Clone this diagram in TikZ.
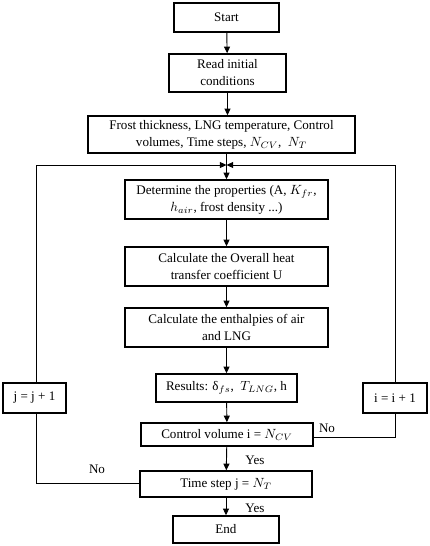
\documentclass[tikz,border=0pt]{standalone}
\usepackage{fontspec}
\setmainfont{Liberation Serif}
\usetikzlibrary{arrows.meta}
\begin{document}
\begin{tikzpicture}[x=0.75pt,y=-0.75pt,
  box/.style={draw,line width=1.1pt,inner sep=0pt,align=center,font=\fontsize{9.8}{12.75}\selectfont},
  lbl/.style={inner sep=0pt,font=\fontsize{9.8}{12}\selectfont},
  conn/.style={line width=0.7pt,-{Triangle[length=5pt,width=4.5pt]}},
  plain/.style={line width=0.7pt}]
\useasboundingbox (0,0) rectangle (429,546);
\node[box,minimum width=78.75pt,minimum height=21.75pt] (start) at (226.5,17.5) {Start};
\node[box,minimum width=87.75pt,minimum height=28.5pt] (read) at (227.5,73) {Read initial\\conditions};
\node[box,minimum width=200.25pt,minimum height=27.75pt] (frost) at (221.5,134.5) {Frost thickness, LNG temperature, Control\\volumes, Time steps, $N_{CV}$,\ \ $N_T$};
\node[box,minimum width=152.25pt,minimum height=29.25pt] (det) at (226.5,199.5) {Determine the properties (A, $K_{fr}$,\\$h_{air}$, frost density ...)};
\node[box,minimum width=152.25pt,minimum height=29.25pt] (calcU) at (226.5,266.5) {Calculate the Overall heat\\transfer coefficient U};
\node[box,minimum width=152.25pt,minimum height=29.25pt] (enth) at (226.5,327.5) {Calculate the enthalpies of air\\and LNG};
\node[box,minimum width=105.75pt,minimum height=21pt] (res) at (226.5,388) {Results: δ$_{fs}$,\ \ $T_{LNG}$, h};
\node[box,minimum width=129pt,minimum height=17.25pt] (cv) at (227,434.5) {Control volume i = $N_{CV}$};
\node[box,minimum width=129pt,minimum height=19.5pt] (ts) at (226,484) {Time step j = $N_T$};
\node[box,minimum width=79.5pt,minimum height=20.25pt] (end) at (226,529.5) {End};
\node[box,minimum width=47.25pt,minimum height=22.5pt] (jinc) at (34.5,398) {j = j + 1};
\node[box,minimum width=48pt,minimum height=22.5pt] (iinc) at (395,398) {i = i + 1};
\coordinate (merge) at (226.5,165);
\coordinate (lc) at (36,165);
\coordinate (rc) at (395,165);
\coordinate (cvr) at (395,437);
\coordinate (tsl) at (36,483);
\draw[conn] (start) -- (read);
\draw[conn] (read.south) -- (read.south |- frost.north);
\draw[conn] (merge |- frost.south) -- (det.north -| merge);
\draw[conn] (jinc.north -| lc) -- (lc) -- (merge);
\draw[conn] (iinc.north) -- (rc) -- (merge);
\draw[conn] (det) -- (calcU);
\draw[conn] (calcU) -- (enth);
\draw[conn] (enth) -- (res);
\draw[conn] (res) -- (cv);
\draw[conn] (cv) -- (ts);
\draw[conn] (ts) -- (end);
\draw[plain] (cv.east |- cvr) -- (cvr) -- (iinc.south);
\draw[plain] (ts.west |- tsl) -- (tsl) -- (jinc.south -| tsl);
\node[lbl] (no1) at (327,428) {No};
\node[lbl] (no2) at (97,469) {No};
\node[lbl] (yes1) at (255,460) {Yes};
\node[lbl] (yes2) at (255,508) {Yes};
\end{tikzpicture}
\end{document}
